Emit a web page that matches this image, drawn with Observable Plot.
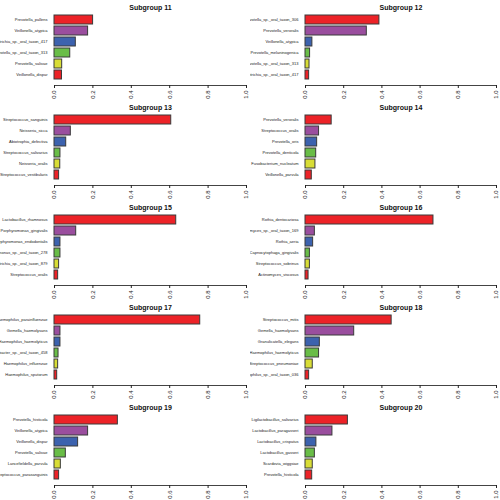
<!DOCTYPE html>
<html><head><meta charset="utf-8">
<script src="https://cdn.jsdelivr.net/npm/d3@7"></script>
<script src="https://cdn.jsdelivr.net/npm/@observablehq/plot@0.6"></script>
<style>
body{margin:0;background:#fff;}
#grid{display:grid;grid-template-columns:250px 250px;grid-auto-rows:100px;width:500px;}
#grid svg{overflow:hidden;display:block;}
</style></head><body><div id="grid"></div>
<script>
const titles = ["Subgroup 11","Subgroup 12","Subgroup 13","Subgroup 14","Subgroup 15","Subgroup 16","Subgroup 17","Subgroup 18","Subgroup 19","Subgroup 20"];
const xTicks = [0, 0.2, 0.4, 0.6, 0.8, 1.0];

const taxa11 = ["Prevotella_pallens","Veillonella_atypica","Leptotrichia_sp._oral_taxon_417","Prevotella_sp._oral_taxon_313","Prevotella_salivae","Veillonella_dispar"];
const values11 = [0.201, 0.175, 0.111, 0.082, 0.040, 0.039];
const taxa12 = ["Prevotella_sp._oral_taxon_306","Prevotella_veroralis","Veillonella_atypica","Prevotella_melaninogenica","Prevotella_sp._oral_taxon_313","Leptotrichia_sp._oral_taxon_417"];
const values12 = [0.387, 0.321, 0.036, 0.024, 0.021, 0.019];
const taxa13 = ["Streptococcus_sanguinis","Neisseria_sicca","Abiotrophia_defectiva","Streptococcus_salivarius","Neisseria_oralis","Streptococcus_vestibularis"];
const values13 = [0.608, 0.085, 0.061, 0.031, 0.030, 0.024];
const taxa14 = ["Prevotella_veroralis","Streptococcus_oralis","Prevotella_oris","Prevotella_denticola","Fusobacterium_nucleatum","Veillonella_parvula"];
const values14 = [0.137, 0.071, 0.061, 0.056, 0.052, 0.033];
const taxa15 = ["Lactobacillus_rhamnosus","Porphyromonas_gingivalis","Porphyromonas_endodontalis","Porphyromonas_sp._oral_taxon_278","Leptotrichia_sp._oral_taxon_879","Streptococcus_oralis"];
const values15 = [0.634, 0.113, 0.031, 0.031, 0.024, 0.019];
const taxa16 = ["Rothia_dentocariosa","Actinomyces_sp._oral_taxon_169","Rothia_aeria","Capnocytophaga_gingivalis","Streptococcus_sobrinus","Actinomyces_viscosus"];
const values16 = [0.670, 0.049, 0.040, 0.023, 0.023, 0.016];
const taxa17 = ["Haemophilus_parainfluenzae","Gemella_haemolysans","Haemophilus_haemolyticus","Aggregatibacter_sp._oral_taxon_458","Haemophilus_influenzae","Haemophilus_sputorum"];
const values17 = [0.759, 0.031, 0.031, 0.021, 0.019, 0.014];
const taxa18 = ["Streptococcus_mitis","Gemella_haemolysans","Granulicatella_elegans","Haemophilus_haemolyticus","Streptococcus_pneumoniae","Haemophilus_sp._oral_taxon_036"];
const values18 = [0.451, 0.255, 0.075, 0.071, 0.038, 0.019];
const taxa19 = ["Prevotella_histicola","Veillonella_atypica","Veillonella_dispar","Prevotella_salivae","Lancefieldella_parvula","Streptococcus_parasanguinis"];
const values19 = [0.330, 0.175, 0.123, 0.059, 0.033, 0.024];
const taxa20 = ["Ligilactobacillus_salivarius","Lactobacillus_paragasseri","Lactobacillus_crispatus","Lactobacillus_gasseri","Scardovia_wiggsiae","Prevotella_histicola"];
const values20 = [0.222, 0.141, 0.057, 0.049, 0.038, 0.035];

const barColors = ["#EC2227","#9A4E9E","#3C62AE","#69BD47","#D8DD36","#EC2227"];

const taxaList = [taxa11,taxa12,taxa13,taxa14,taxa15,taxa16,taxa17,taxa18,taxa19,taxa20];
const valueList = [values11,values12,values13,values14,values15,values16,values17,values18,values19,values20];

const grid = document.getElementById("grid");
titles.forEach((title, i) => {
  const left = i % 2 === 0;
  const taxa = taxaList[i];
  const data = taxa.map((t, j) => ({taxon: t, value: valueList[i][j], color: barColors[j]}));
  const chart = Plot.plot({
    width: 250, height: 100,
    marginTop: 10, marginBottom: 15,
    marginLeft: left ? 54 : 55, marginRight: 4,
    style: {fontFamily: "Liberation Sans, Arial, sans-serif", background: "white", overflow: "hidden", color: "#222"},
    x: {domain: [0, 1]},
    y: {domain: taxa, paddingInner: 0.153, paddingOuter: 0.254},
    color: {type: "identity"},
    marks: [
      Plot.barX(data, {x: "value", y: "taxon", fill: "color", stroke: "#3a3a3a", strokeWidth: 1}),
      Plot.frame({anchor: "bottom", stroke: "#444"}),
      Plot.axisX({ticks: xTicks, tickFormat: d3.format(".1f"), tickRotate: -90, tickSize: 3, tickPadding: 2, fontSize: 6, label: null}),
      Plot.axisY({tickSize: 0, tickPadding: 7, fontSize: 4, label: null}),
      Plot.text([title], {frameAnchor: "top", dy: -1, lineAnchor: "bottom", fontWeight: "bold", fontSize: 7, fill: "#111"})
    ]
  });
  grid.appendChild(chart);
});
</script>
</body></html>
